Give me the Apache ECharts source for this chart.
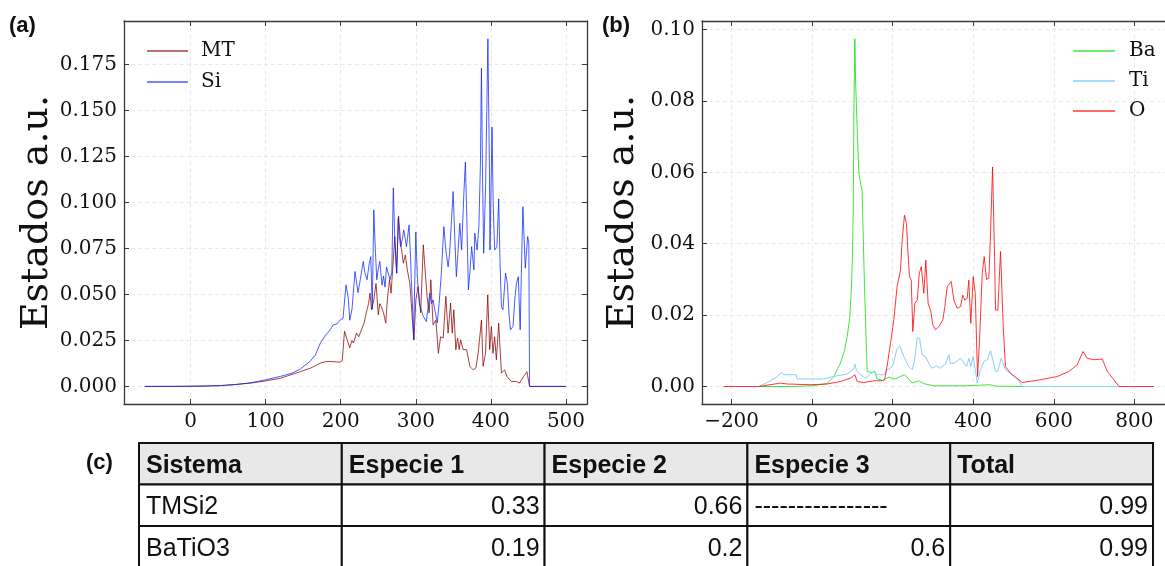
<!DOCTYPE html>
<html>
<head>
<meta charset="utf-8">
<title>Estados a.u.</title>
<script src="https://cdn.jsdelivr.net/npm/echarts@6/dist/echarts.min.js"></script>
<style>
  html, body { margin: 0; padding: 0; background: #fff; }
  #chart { width: 1165px; height: 566px; }
</style>
</head>
<body>
<div id="chart"></div>
<script>
// ===== Data: panel (a) =====
const mtX = [-61, 0, 40, 80, 100, 120, 146, 160, 173, 180, 186, 199, 202, 205, 208, 212, 215, 217, 221, 224, 226, 231, 233, 235, 237, 239, 241, 244, 247, 250, 252, 254, 257, 260, 262, 265, 267, 270, 272, 274.5, 277, 279.8, 283.4, 286, 288.7, 292, 294, 296, 297.6, 300, 303, 306.4, 310, 312, 315, 317.7, 320, 323, 326.7, 330, 333, 336.5, 340, 343, 346.3, 348.5, 350.6, 353.3, 355.6, 357.8, 359.6, 363, 367.6, 372, 376.4, 380, 383, 387.4, 389.6, 392.8, 395.8, 398.4, 400.6, 402.8, 405, 407.3, 410.4, 414, 418.3, 421.4, 427.2, 433.8, 438, 443.5, 448, 450, 451.5, 500];
const mtY = [0, 0.0001, 0.0004, 0.0018, 0.003, 0.0045, 0.008, 0.010, 0.0127, 0.0135, 0.0136, 0.0132, 0.014, 0.030, 0.026, 0.021, 0.025, 0.0236, 0.029, 0.027, 0.0263, 0.0344, 0.038, 0.0417, 0.045, 0.0507, 0.0417, 0.047, 0.056, 0.039, 0.045, 0.0434, 0.040, 0.0344, 0.047, 0.058, 0.0507, 0.0688, 0.0815, 0.0616, 0.0927, 0.078, 0.067, 0.0715, 0.0634, 0.056, 0.045, 0.0326, 0.0254, 0.047, 0.0543, 0.040, 0.077, 0.065, 0.049, 0.040, 0.058, 0.0335, 0.036, 0.018, 0.027, 0.0263, 0.049, 0.029, 0.0453, 0.029, 0.0417, 0.020, 0.0263, 0.020, 0.0254, 0.020, 0.020, 0.0109, 0.009, 0.010, 0.018, 0.036, 0.0109, 0.018, 0.0498, 0.020, 0.0326, 0.018, 0.027, 0.0145, 0.0344, 0.0073, 0.009, 0.0054, 0.0027, 0.0027, 0.0018, 0.0054, 0.008, 0.009, 0, 0];

const siX = [-61, -20, 0, 20, 40, 60, 80, 100, 120, 135, 146, 159, 166, 173, 180, 186, 190, 195, 199, 203, 207, 210, 212, 215, 219, 223, 226, 230, 232, 235, 238, 240, 242, 244, 246, 248, 250, 252, 255, 257, 259, 261, 263, 265.6, 268, 270, 272, 274.5, 276.5, 278, 279.7, 282, 284, 286, 287.5, 289, 291, 293, 294, 296, 297, 298.5, 300, 302, 304.6, 307, 310, 312, 314, 316, 318.7, 321, 323, 326, 328.5, 331, 334, 337.3, 340, 343, 345, 347.5, 349.7, 352, 354, 356, 358.6, 361, 364, 366, 368, 370, 372, 374.3, 377.4, 378.5, 381.6, 384, 386, 387.4, 389, 390.4, 393, 396, 398, 398.8, 401.5, 403, 405, 408, 410.4, 412, 414, 416, 419.5, 422, 424, 426, 429.5, 432, 434, 436.5, 439, 441, 442.6, 445.8, 449, 450.5, 451.5, 500];
const siY = [0, 0, 0.0001, 0.0002, 0.0005, 0.001, 0.002, 0.0036, 0.0055, 0.0072, 0.0094, 0.0136, 0.017, 0.0237, 0.028, 0.0308, 0.0335, 0.034, 0.036, 0.037, 0.0552, 0.048, 0.036, 0.042, 0.0625, 0.051, 0.058, 0.068, 0.062, 0.058, 0.067, 0.0706, 0.042, 0.096, 0.075, 0.058, 0.064, 0.068, 0.055, 0.060, 0.054, 0.065, 0.066, 0.058, 0.062, 0.108, 0.0797, 0.0616, 0.0914, 0.082, 0.076, 0.080, 0.085, 0.080, 0.076, 0.081, 0.0878, 0.070, 0.058, 0.040, 0.0254, 0.055, 0.084, 0.060, 0.0453, 0.042, 0.038, 0.037, 0.0353, 0.042, 0.0507, 0.045, 0.047, 0.040, 0.0346, 0.045, 0.0616, 0.0869, 0.0742, 0.065, 0.072, 0.0905, 0.106, 0.080, 0.0597, 0.072, 0.0887, 0.0742, 0.105, 0.122, 0.090, 0.0525, 0.062, 0.076, 0.0634, 0.0834, 0.0742, 0.0869, 0.120, 0.173, 0.110, 0.0724, 0.110, 0.189, 0.120, 0.0742, 0.141, 0.100, 0.0742, 0.076, 0.102, 0.070, 0.0434, 0.0417, 0.0616, 0.056, 0.040, 0.0308, 0.0326, 0.048, 0.056, 0.0597, 0.0308, 0.070, 0.0977, 0.0643, 0.0815, 0.078, 0, 0];

// ===== Data: panel (b) =====
const baX = [-133, -50, 0, 37, 54, 70, 80, 87, 93, 97, 100, 102, 104, 106, 108, 112, 116, 120, 124, 130, 136.6, 149, 155, 161.5, 174, 190, 207, 219, 229, 236, 248, 265, 277, 302, 376, 443, 455, 520, 760];
const baY = [0, 0, 0.0002, 0.0008, 0.0028, 0.0065, 0.010, 0.014, 0.019, 0.026, 0.036, 0.050, 0.080, 0.0974, 0.085, 0.072, 0.0597, 0.057, 0.055, 0.028, 0.0042, 0.0039, 0.0043, 0.0021, 0.0017, 0.0026, 0.0021, 0.0028, 0.0033, 0.0026, 0.001, 0.0016, 0.0008, 0.0002, 0.0002, 0.0005, 0.0001, 0, 0];

const tiX = [-133, -110, -90, -76, -70, -40, -37, 28, 53, 87, 103, 106, 110, 116, 124, 132, 145, 153, 161.5, 178, 186, 194.5, 201, 211, 217.6, 227.6, 240, 248.4, 254, 261, 266.6, 273.3, 281.5, 289.7, 298, 308.8, 317, 331, 339.5, 343.6, 352, 368.4, 383.4, 389, 394, 400, 410, 418, 426.4, 434.8, 443, 448.7, 455.4, 461, 469.5, 480, 497, 513, 521.7, 762];
const tiY = [0, 0.0012, 0.0025, 0.0039, 0.0033, 0.0033, 0.0021, 0.0021, 0.0028, 0.0035, 0.0049, 0.0063, 0.0045, 0.0037, 0.003, 0.0023, 0.0035, 0.0042, 0.0033, 0.0033, 0.0047, 0.0051, 0.0061, 0.0107, 0.0114, 0.0084, 0.0056, 0.0047, 0.007, 0.0138, 0.0135, 0.0089, 0.0084, 0.0065, 0.0051, 0.0058, 0.0051, 0.0063, 0.0089, 0.0065, 0.0065, 0.0079, 0.0056, 0.0079, 0.0056, 0.0084, 0.001, 0.0047, 0.007, 0.0075, 0.010, 0.0075, 0.0042, 0.0042, 0.0079, 0.0047, 0.0033, 0.0016, 0, 0];

const oX = [-220, -133, -110, -79, -62, -4, 37, 70, 95, 106, 112, 128, 153, 174, 180, 186, 194.5, 202.8, 211, 219.4, 223.6, 229.3, 234.3, 237.6, 241.7, 246, 250, 255, 261, 266, 271, 277.4, 282.3, 288, 294, 299.7, 306.4, 314.7, 324.6, 329.6, 335.4, 345.3, 352, 360.4, 368.4, 374, 379, 385, 389, 394, 400, 405, 410.7, 415.7, 422.4, 427.3, 433, 438.8, 443, 448, 453, 455.4, 461, 467.8, 474.5, 480, 492.7, 509, 521.7, 567, 608.7, 637.5, 658.4, 672.4, 683, 699.6, 720.4, 733, 749.3, 762, 849];
const oY = [0, 0, 0.0004, 0.00095, 0.0007, 0.0005, 0.0007, 0.0014, 0.0023, 0.0033, 0.0014, 0.0011, 0.0016, 0.0016, 0.0019, 0.0056, 0.0121, 0.0187, 0.028, 0.0326, 0.041, 0.048, 0.0457, 0.0382, 0.0308, 0.0298, 0.0154, 0.0233, 0.0242, 0.0317, 0.0336, 0.0261, 0.0354, 0.0233, 0.0214, 0.0173, 0.0159, 0.0168, 0.0187, 0.0224, 0.028, 0.0294, 0.0242, 0.0219, 0.0224, 0.0256, 0.0242, 0.0247, 0.0298, 0.0177, 0.0308, 0.0261, 0.0028, 0.013, 0.0317, 0.0364, 0.030, 0.0303, 0.0429, 0.0615, 0.0364, 0.0214, 0.0214, 0.0378, 0.0168, 0.0056, 0.0037, 0.0023, 0.0011, 0.0019, 0.0028, 0.0042, 0.0061, 0.0098, 0.0079, 0.0075, 0.0077, 0.0042, 0.0019, 0, 0];

// ===== Tick labels =====
const aXTicks = [0, 100, 200, 300, 400, 500];
const aYTicks = [0, 0.025, 0.05, 0.075, 0.1, 0.125, 0.15, 0.175];
const bXTicks = [-200, 0, 200, 400, 600, 800];
const bYTicks = [0, 0.02, 0.04, 0.06, 0.08, 0.1];

// ===== Table (c) =====
const tableHeader = ['Sistema', 'Especie 1', 'Especie 2', 'Especie 3', 'Total'];
const tableRows = [
  ['TMSi2', '0.33', '0.66', '----------------', '0.99'],
  ['BaTiO3', '0.19', '0.2', '0.6', '0.99']
];

// ===== Styles =====
const SERIF = 'DejaVu Serif';
const SANS = 'Liberation Sans';
const AX = '#3a3a3a';
const minus = v => String(v).replace('-', '\u2212');
const zip = (xs, ys) => xs.map((x, i) => [x, ys[i]]);

function xAxes(gi, min, max, ticks) {
  const base = {
    type: 'value', gridIndex: gi, min, max,
    axisLine: { show: true, onZero: false, lineStyle: { color: AX, width: 1.3 } },
    axisTick: { show: true, inside: true, length: 5, customValues: ticks, lineStyle: { color: AX, width: 1 } }
  };
  return [
    { ...base, position: 'bottom',
      splitLine: { show: true, lineStyle: { color: '#e3e3e3', type: [4, 3], width: 0.8 } },
      axisLabel: { customValues: ticks, margin: 8, fontSize: 20, fontFamily: SERIF, color: '#111', formatter: minus } },
    { ...base, position: 'top', splitLine: { show: false }, axisLabel: { show: false } }
  ];
}

function yAxes(gi, min, max, ticks, digits, nameGap) {
  const base = {
    type: 'value', gridIndex: gi, min, max,
    axisLine: { show: true, onZero: false, lineStyle: { color: AX, width: 1.3 } },
    axisTick: { show: true, inside: true, length: 5, customValues: ticks, lineStyle: { color: AX, width: 1 } }
  };
  return [
    { ...base, position: 'left',
      name: 'Estados a.u.', nameLocation: 'middle', nameGap,
      nameTextStyle: { fontSize: 38, fontFamily: SERIF, color: '#111' },
      splitLine: { show: true, lineStyle: { color: '#e3e3e3', type: [4, 3], width: 0.8 } },
      axisLabel: { customValues: ticks, margin: 7, fontSize: 20, fontFamily: SERIF, color: '#111', formatter: v => v.toFixed(digits) } },
    { ...base, position: 'right', splitLine: { show: false }, axisLabel: { show: false } }
  ];
}

function line(name, data, color, xi, yi) {
  return {
    name, type: 'line', data, xAxisIndex: xi, yAxisIndex: yi,
    showSymbol: false, symbol: 'none', smooth: false,
    lineStyle: { color, width: 1 }, itemStyle: { color }
  };
}

// ===== Table graphics =====
function buildTable() {
  const x0 = 139, y0 = 443, cw = 202.8, rh = 41.5;
  const els = [];
  const rows = [tableHeader, ...tableRows];
  rows.forEach((row, r) => {
    row.forEach((cell, c) => {
      const x = x0 + c * cw, y = y0 + r * rh;
      els.push({ type: 'rect', shape: { x, y, width: cw, height: rh },
        style: { fill: r === 0 ? '#e8e8e8' : '#fff', stroke: '#111', lineWidth: 2 } });
      const numeric = r > 0 && !isNaN(Number(cell));
      els.push({ type: 'text', x: numeric ? x + cw - 5 : x + 7, y: y + rh / 2 + 2,
        style: { text: cell, fill: '#111', font: (r === 0 ? 'bold ' : '') + '25px ' + SANS,
          textAlign: numeric ? 'right' : 'left', textVerticalAlign: 'middle' } });
    });
  });
  return els;
}

function panelLabel(text, x, y) {
  return { type: 'text', x, y, style: { text, fill: '#111', font: 'bold 22px ' + SANS, textVerticalAlign: 'middle' } };
}

// ===== Chart =====
const chart = echarts.init(document.getElementById('chart'), null, { renderer: 'canvas' });

const option = {
  animation: false,
  backgroundColor: '#fff',
  grid: [
    { left: 124, top: 21, width: 463, height: 383, outerBoundsMode: 'none' },
    { left: 702, top: 21, width: 474, height: 383, outerBoundsMode: 'none' }
  ],
  xAxis: [...xAxes(0, -88.7, 528, aXTicks), ...xAxes(1, -273.5, 903.5, bXTicks)],
  yAxis: [...yAxes(0, -0.00955, 0.1987, aYTicks, 3, 66), ...yAxes(1, -0.0049, 0.1024, bYTicks, 2, 60)],
  legend: [
    { data: ['MT', 'Si'], orient: 'vertical', left: 142, top: 36, itemGap: 11,
      icon: 'rect', itemWidth: 41, itemHeight: 1.5,
      textStyle: { fontSize: 20, fontFamily: SERIF, color: '#111', lineHeight: 20, padding: [0, 0, 0, 8] } },
    { data: ['Ba', 'Ti', 'O'], orient: 'vertical', left: 1068, top: 36, itemGap: 10,
      icon: 'rect', itemWidth: 42, itemHeight: 1.5,
      textStyle: { fontSize: 20, fontFamily: SERIF, color: '#111', lineHeight: 20, padding: [0, 0, 0, 9] } }
  ],
  series: [
    line('MT', zip(mtX, mtY), 'rgba(139,0,0,0.75)', 0, 0),
    line('Si', zip(siX, siY), 'rgba(0,30,255,0.72)', 0, 0),
    line('Ba', zip(baX, baY), 'rgba(0,220,0,0.75)', 2, 2),
    line('Ti', zip(tiX, tiY), '#87cefa', 2, 2),
    line('O', zip(oX, oY), 'rgba(255,0,0,0.78)', 2, 2)
  ],
  graphic: [
    panelLabel('(a)', 9, 26),
    panelLabel('(b)', 602, 26),
    panelLabel('(c)', 86, 463),
    ...buildTable()
  ]
};

chart.setOption(option);
</script>
</body>
</html>
